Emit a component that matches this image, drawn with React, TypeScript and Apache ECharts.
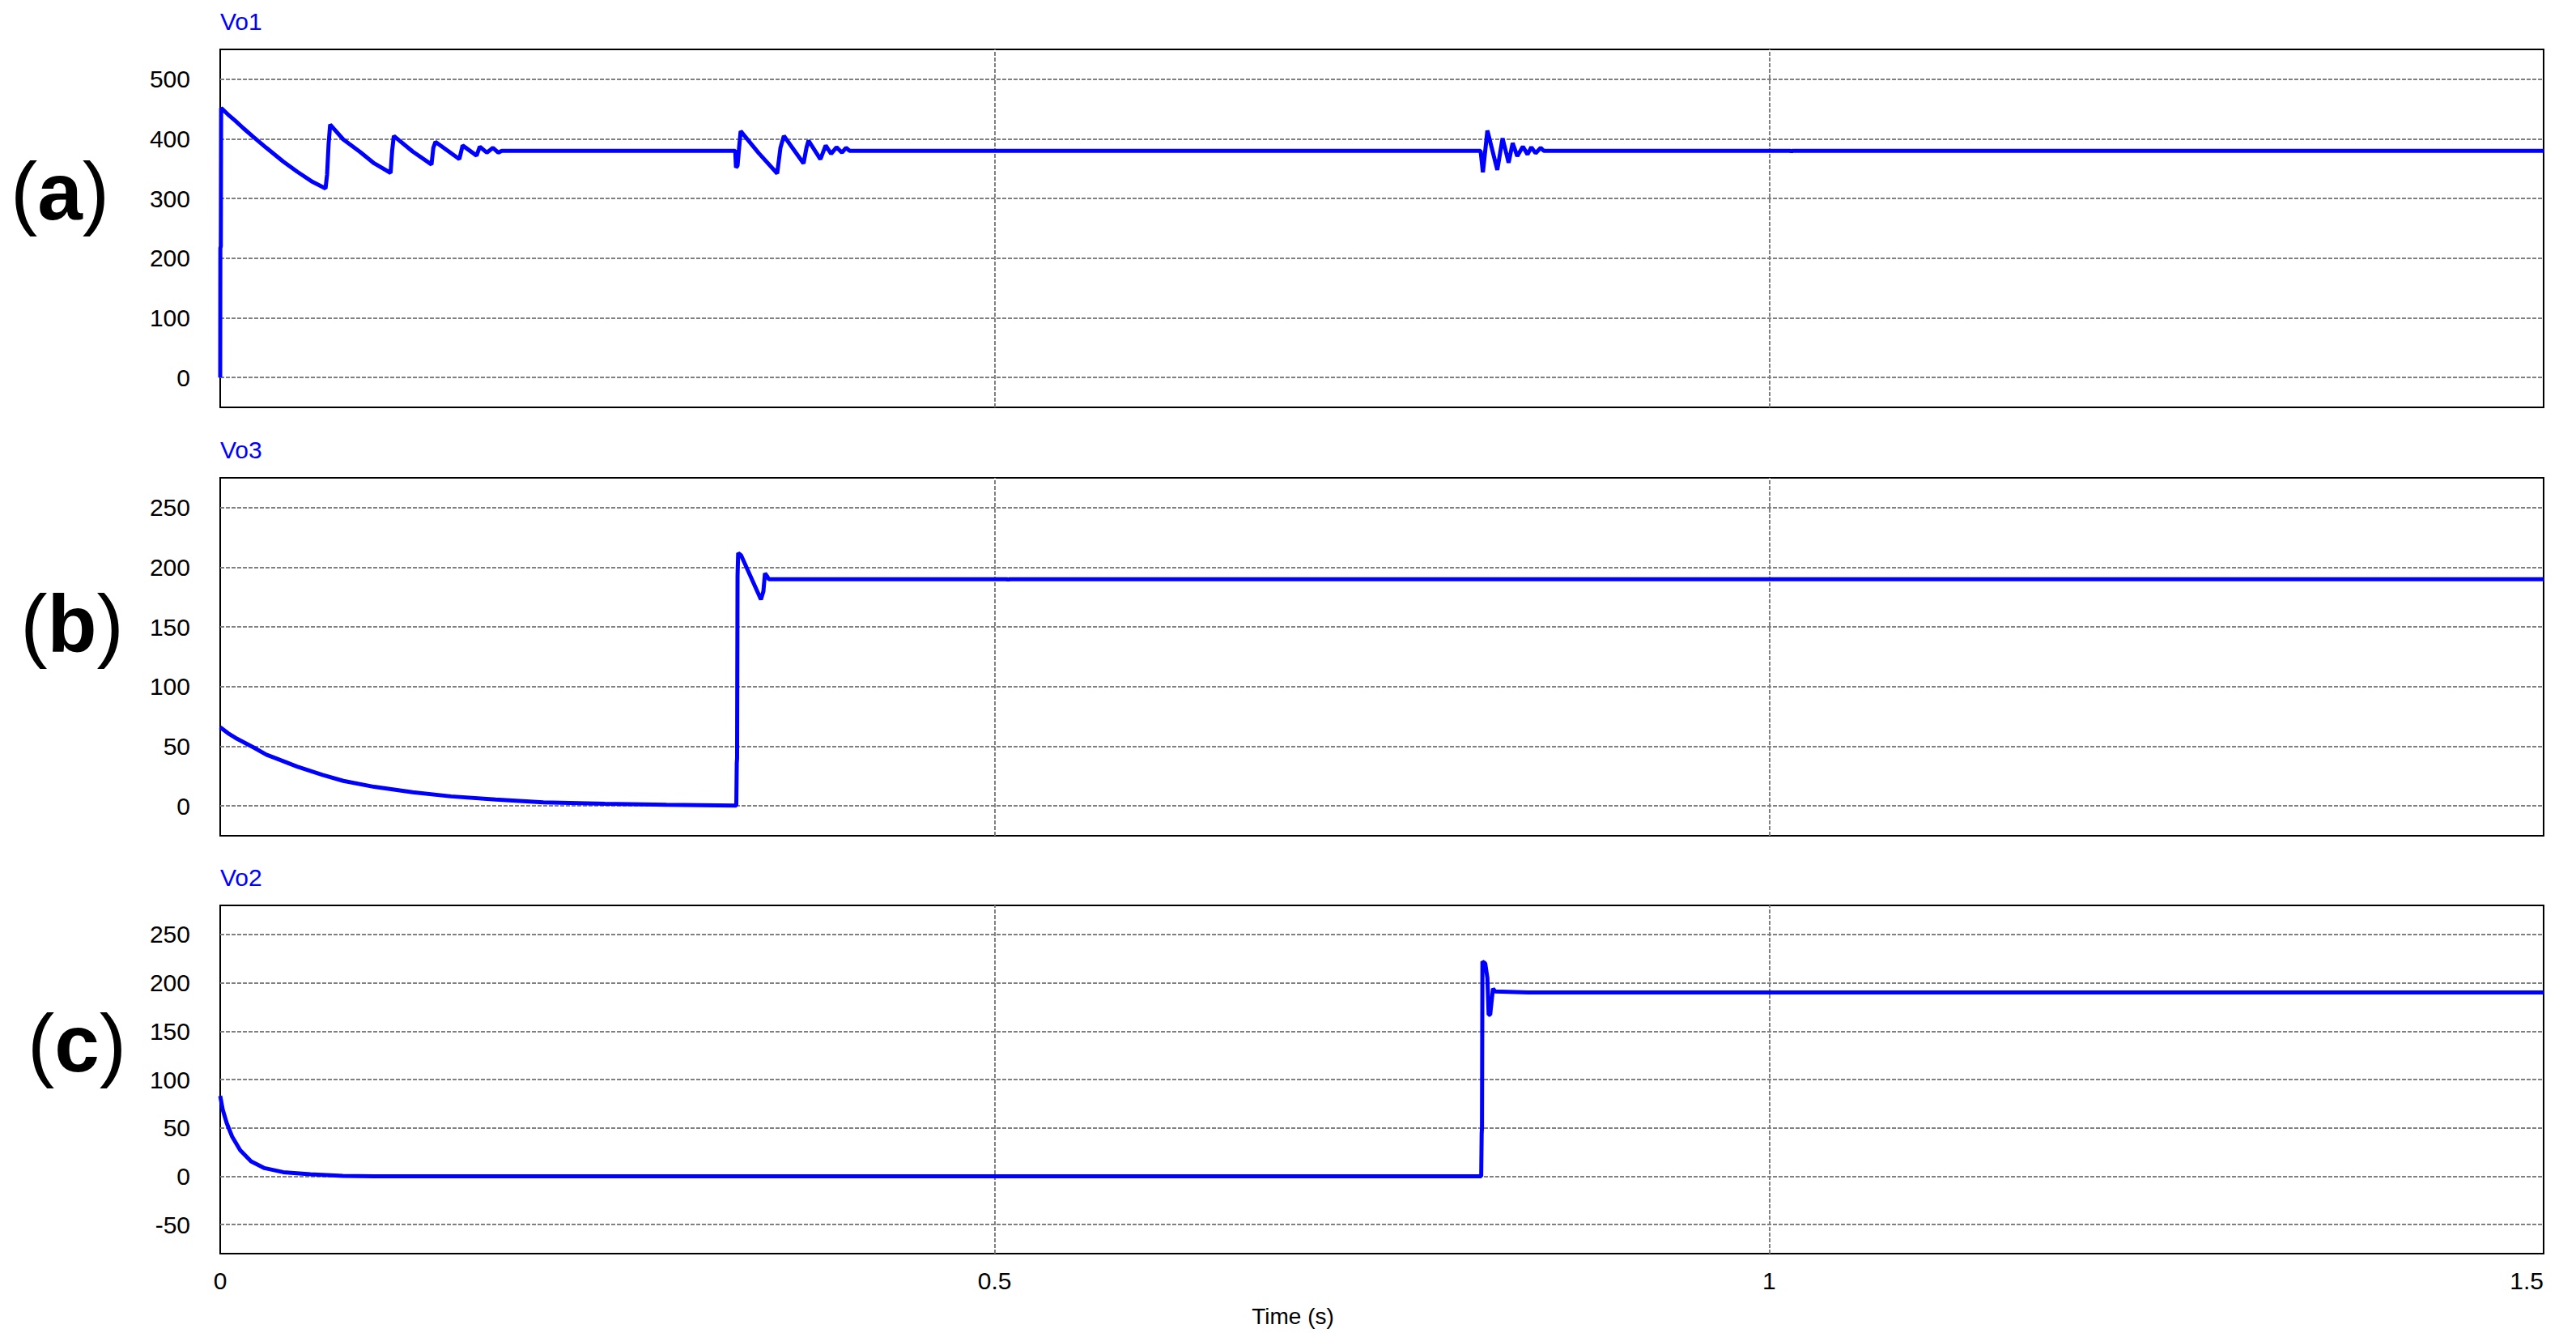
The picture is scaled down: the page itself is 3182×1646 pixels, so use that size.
import React, { useEffect, useRef } from "react";
import * as echarts from "echarts";

// ---------- data (time in s, voltage in V) ----------
const vo1Time = [
  0, 0.0001, 0.0004, 0.0006, 0.005, 0.0099, 0.0149, 0.0216, 0.0298, 0.0407, 0.0497, 0.0596, 0.068, 0.069,
  0.07, 0.071, 0.0795, 0.0904, 0.0994, 0.11, 0.111, 0.1121, 0.1242, 0.1364, 0.1376, 0.139, 0.1544, 0.1565,
  0.1655, 0.1676, 0.1721, 0.1761, 0.1795, 0.1818, 0.3325, 0.333, 0.334, 0.335, 0.336, 0.3477, 0.3596,
  0.3617, 0.3639, 0.3766, 0.3785, 0.3798, 0.3875, 0.3909, 0.3944, 0.3979, 0.4014, 0.404, 0.4064, 0.8137,
  0.8152, 0.8181, 0.8245, 0.8279, 0.8318, 0.8344, 0.8374, 0.841, 0.844, 0.8465, 0.8492, 0.8525, 0.8545,
  1.0139, 1.0144, 1.0149, 1.5,
];
const vo1Values = [
  0, 217, 220, 452, 441, 430, 418, 403, 385, 362, 345, 328, 317, 340,
  392, 424, 399, 378, 359, 343, 380, 405, 379, 357, 385, 395, 366, 389,
  372, 387, 377, 385, 377, 380, 380, 352, 355, 385, 413, 376, 342,
  385, 405, 359, 385, 397, 366, 389, 375, 386, 377, 385, 380, 380,
  344, 414, 348, 401, 360, 393, 371, 387, 374, 386, 376, 385, 380,
  380, 378, 380, 380,
];

const vo3Time = [
  0, 0.005, 0.0099, 0.0216, 0.0298, 0.0397, 0.0497, 0.0661, 0.0795, 0.0994, 0.1242, 0.149, 0.1778, 0.2086,
  0.2484, 0.2881, 0.3332, 0.3335, 0.3337, 0.334, 0.3344, 0.3363, 0.3491, 0.3507, 0.3517, 0.3533, 0.3542,
  0.5082, 0.5087, 0.5092, 1.5,
];
const vo3Values = [
  66, 61, 57, 49, 43, 38, 33, 26, 21, 16, 11.5, 8, 5.3, 3,
  1.8, 1, 0.3, 36, 40, 193, 212, 210, 173, 180, 195, 192, 190,
  190, 189, 190, 190,
];

const vo2Time = [
  0, 0.0016, 0.0042, 0.0077, 0.0129, 0.0199, 0.0286, 0.0407, 0.0582, 0.0792, 0.0994, 0.8141, 0.8144,
  0.8146, 0.8149, 0.8167, 0.8181, 0.8189, 0.8199, 0.8209, 0.8217, 0.8232, 0.8445, 1.5,
];
const vo2Values = [
  83, 69, 55, 41, 27, 15.5, 8.4, 4.2, 2, 0.3, 0, 0, 44,
  50, 222, 220, 205, 167, 167, 182, 194, 191, 190, 190,
];

// tick labels / grid lines
const xTicks = [0, 0.5, 1, 1.5];
const xGridLines = [0.5, 1];
const yTicksA = [0, 100, 200, 300, 400, 500];
const yTicksB = [0, 50, 100, 150, 200, 250];
const yTicksC = [-50, 0, 50, 100, 150, 200, 250];
const seriesNames = ["Vo1", "Vo3", "Vo2"];
const panelLabels = ["a", "b", "c"];
const xAxisTitle = "Time (s)";

const FONT = "'Liberation Sans', Arial, Helvetica, sans-serif";

function pairs(t: number[], v: number[]) {
  return t.map((x, i) => [x, v[i]]);
}

export default function App() {
  const ref = useRef<HTMLDivElement>(null);
  useEffect(() => {
    if (!ref.current) return;
    const chart = echarts.init(ref.current, undefined, { renderer: "svg" });

    const grids = [
      { left: 272, right: 40, top: 61, height: 442 },
      { left: 272, right: 40, top: 590, height: 442 },
      { left: 272, right: 40, top: 1118, height: 430 },
    ];
    const yRanges = [
      { min: -50, max: 550, interval: 50, ticks: yTicksA },
      { min: -25, max: 275, interval: 25, ticks: yTicksB },
      { min: -80, max: 280, interval: 10, ticks: yTicksC },
    ];
    const datas = [pairs(vo1Time, vo1Values), pairs(vo3Time, vo3Values), pairs(vo2Time, vo2Values)];

    const isTick = (v: number, list: number[]) => list.some((t) => Math.abs(t - v) < 1e-6);

    const option: any = {
      animation: false,
      backgroundColor: "#ffffff",
      grid: grids.map((g) => ({ ...g, show: true, borderColor: "#000000", borderWidth: 2, backgroundColor: "transparent" })),
      xAxis: grids.map((_, i) => ({
        type: "value",
        gridIndex: i,
        min: 0,
        max: 1.5,
        interval: 0.5,
        axisLine: { show: false },
        axisTick: { show: false },
        splitLine: { show: false },
        axisLabel: {
          show: i === 2,
          margin: 18,
          fontSize: 30,
          color: "#000000",
          fontFamily: FONT,
          alignMaxLabel: "right",
          formatter: (v: number) => (isTick(v, xTicks) ? String(Math.round(v * 10) / 10) : ""),
        },
      })),
      yAxis: yRanges.map((r, i) => ({
        type: "value",
        gridIndex: i,
        min: r.min,
        max: r.max,
        interval: r.interval,
        axisLine: { show: false },
        axisTick: { show: false },
        splitLine: { show: false },
        axisLabel: {
          margin: 37,
          fontSize: 30,
          color: "#000000",
          fontFamily: FONT,
          formatter: (v: number) => (isTick(v, r.ticks) ? String(Math.round(v)) : ""),
        },
      })),
      series: datas.map((d, i) => ({
        name: seriesNames[i],
        type: "line",
        xAxisIndex: i,
        yAxisIndex: i,
        data: d,
        showSymbol: false,
        symbol: "none",
        silent: true,
        z: 10,
        lineStyle: { color: "#0000ff", width: 5 },
        itemStyle: { color: "#0000ff" },
        markLine: {
          silent: true,
          symbol: ["none", "none"],
          label: { show: false },
          emphasis: { disabled: true },
          lineStyle: { color: "#808080", type: [5, 2], width: 2 },
          data: [
            ...yRanges[i].ticks.map((v) => ({ yAxis: v })),
            ...xGridLines.map((v) => ({ xAxis: v })),
          ],
        },
      })),
      graphic: [
        ...seriesNames.map((n, i) => ({
          type: "text",
          x: 272,
          y: [26, 555, 1083][i],
          silent: true,
          style: {
            text: n,
            fill: "#0000ff",
            fontSize: 30,
            fontFamily: FONT,
            align: "left",
            verticalAlign: "middle",
            textAlign: "left",
            textVerticalAlign: "middle",
          },
        })),
        ...panelLabels.map((l, i) => ({
          type: "text",
          x: [74, 89, 95][i],
          y: [236, 770, 1288][i],
          silent: true,
          style: {
            text: `{p|(}{b|${l}}{p|)}`,
            fill: "#000000",
            fontFamily: FONT,
            fontSize: 100,
            align: "center",
            verticalAlign: "middle",
            textAlign: "center",
            textVerticalAlign: "middle",
            rich: {
              p: { fontSize: 100, fontWeight: "normal", fontFamily: FONT, fill: "#000000" },
              b: { fontSize: 100, fontWeight: "bold", fontFamily: FONT, fill: "#000000" },
            },
          },
        })),
        {
          type: "text",
          x: 1597,
          y: 1625,
          silent: true,
          style: {
            text: xAxisTitle,
            fill: "#000000",
            fontSize: 28,
            fontFamily: FONT,
            align: "center",
            verticalAlign: "middle",
            textAlign: "center",
            textVerticalAlign: "middle",
          },
        },
      ],
    };
    chart.setOption(option);
    return () => chart.dispose();
  }, []);
  return (
    <div
      ref={ref}
      style={{ position: "fixed", left: 0, top: 0, width: 3182, height: 1646, background: "#ffffff" }}
    />
  );
}
